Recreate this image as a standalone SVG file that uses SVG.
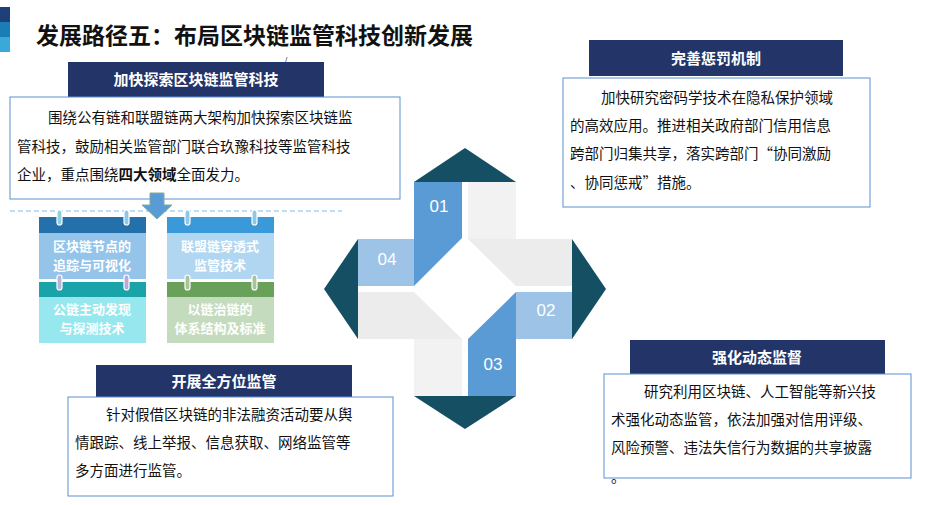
<svg xmlns="http://www.w3.org/2000/svg" width="932" height="505" viewBox="0 0 932 505">
<style>
text{font-family:"Noto Sans CJK SC","Liberation Sans",sans-serif}
.hd{fill:#233568}
.ht{fill:#fff;font-size:15px;font-weight:bold;text-anchor:middle}
.bx{fill:#fff;stroke:#5b8fd0;stroke-width:1}
.bt{fill:#111;font-size:14.5px}
.tt{fill:#fff;font-size:13px;font-weight:bold;text-anchor:middle}
.num{fill:#fff;font-size:17px;font-family:"Liberation Sans",sans-serif;text-anchor:middle}
.dk{fill:#154f63}
</style>
<rect x="0" y="7" width="10" height="15" fill="#1f3f7a"/>
<rect x="0" y="22" width="10" height="15" fill="#1a7db5"/>
<rect x="0" y="37" width="10" height="15" fill="#3aa8d8"/>
<text x="36" y="44" font-size="23" font-weight="bold" fill="#111">发展路径五：布局区块链监管科技创新发展</text>
<text x="284" y="64" font-size="9" fill="#333">/</text>

<g id="n1">
<rect class="hd" x="68" y="62" width="256" height="35"/>
<text class="ht" x="196" y="85">加快探索区块链监管科技</text>
<rect class="bx" x="10" y="97" width="390" height="102"/>
<text class="bt" x="48" y="123">围绕公有链和联盟链两大架构加快探索区块链监</text>
<text class="bt" x="17" y="152">管科技，鼓励相关监管部门联合玖豫科技等监管科技</text>
<text class="bt" x="17" y="180">企业，重点围绕<tspan font-weight="bold">四大领域</tspan>全面发力。</text>
</g>
<line x1="10" y1="211" x2="342" y2="211" stroke="#a9d1ee" stroke-width="1.5" stroke-dasharray="5,3"/>
<g id="arrow"><polygon points="150,193 164,193 164,205 172,205 157,219 142,205 150,205" fill="#5b9bd5" stroke="#7fae9a" stroke-width="1"/></g>

<g id="tiles">
<rect x="39" y="217" width="107" height="16" fill="#2370ab"/><rect x="39" y="233" width="107" height="46" fill="#94c4ea"/>
<text class="tt" x="92" y="251">区块链节点的</text><text class="tt" x="92" y="270">追踪与可视化</text>
<rect x="167" y="217" width="107" height="16" fill="#3a9ad9"/><rect x="167" y="233" width="107" height="46" fill="#b0d6f1"/>
<text class="tt" x="220" y="251">联盟链穿透式</text><text class="tt" x="220" y="270">监管技术</text>
<rect x="39" y="282" width="107" height="15" fill="#1aa3a8"/><rect x="39" y="297" width="107" height="46" fill="#96e8ee"/>
<text class="tt" x="92" y="314">公链主动发现</text><text class="tt" x="92" y="333">与探测技术</text>
<rect x="167" y="282" width="107" height="15" fill="#6aa15a"/><rect x="167" y="297" width="107" height="46" fill="#c5dbbd"/>
<text class="tt" x="220" y="314">以链治链的</text><text class="tt" x="220" y="333">体系结构及标准</text>
<g stroke="#fff" stroke-width="1.2">
<rect x="57" y="210" width="5" height="15" rx="2.5" fill="#8fd0e0"/><rect x="124" y="210" width="5" height="15" rx="2.5" fill="#8fc8e6"/>
<rect x="185" y="210" width="5" height="15" rx="2.5" fill="#8fc8e6"/><rect x="252" y="210" width="5" height="15" rx="2.5" fill="#8fc8e6"/>
<rect x="57" y="275" width="5" height="15" rx="2.5" fill="#b9b4d8"/><rect x="124" y="275" width="5" height="15" rx="2.5" fill="#b9a8d8"/>
<rect x="185" y="275" width="5" height="15" rx="2.5" fill="#a9c49a"/><rect x="252" y="275" width="5" height="15" rx="2.5" fill="#a9c49a"/>
</g>
</g>

<g id="center">
<polygon class="dk" points="465,148 516,182 414,182"/>
<polygon class="dk" points="606,289 572,339 572,239"/>
<polygon class="dk" points="465,429 414,396 516,396"/>
<polygon class="dk" points="324,289 358,239 358,339"/>
<polygon points="468,182 516,182 516,239 468,239" fill="#f2f2f2"/>
<polygon points="468,239 572,239 572,286 516,286" fill="#ececec"/>
<polygon points="414,339 462,339 462,396 414,396" fill="#f2f2f2"/>
<polygon points="358,292 414,292 462,339 358,339" fill="#ececec"/>
<polygon points="414,182 462,182 462,238 414,286" fill="#5b9bd5"/>
<polygon points="516,292 516,396 468,396 468,339" fill="#5b9bd5"/>
<rect x="358" y="239" width="56" height="47" fill="#9dc3e6"/>
<rect x="516" y="292" width="56" height="47" fill="#9dc3e6"/>
<text class="num" x="439" y="212">01</text>
<text class="num" x="546" y="316">02</text>
<text class="num" x="493" y="370">03</text>
<text class="num" x="387" y="265">04</text>
</g>

<g id="n2">
<rect class="hd" x="589" y="40" width="254" height="36"/>
<text class="ht" x="716" y="64">完善惩罚机制</text>
<rect class="bx" x="563" y="78" width="307" height="129"/>
<text class="bt" x="601" y="103">加快研究密码学技术在隐私保护领域</text>
<text class="bt" x="570" y="131">的高效应用。推进相关政府部门信用信息</text>
<text class="bt" x="570" y="159">跨部门归集共享，落实跨部门“协同激励</text>
<text class="bt" x="570" y="188">、协同惩戒”措施。</text>
</g>

<g id="n3">
<rect class="hd" x="630" y="340" width="255" height="34"/>
<text class="ht" x="757" y="363">强化动态监督</text>
<rect class="bx" x="604" y="374" width="307" height="104"/>
<text class="bt" x="644" y="397">研究利用区块链、人工智能等新兴技</text>
<text class="bt" x="611" y="425">术强化动态监管，依法加强对信用评级、</text>
<text class="bt" x="611" y="453">风险预警、违法失信行为数据的共享披露</text>
<text class="bt" x="611" y="482">。</text>
</g>

<g id="n4">
<rect class="hd" x="96" y="365" width="256" height="33"/>
<text class="ht" x="224" y="387">开展全方位监管</text>
<rect class="bx" x="68" y="397" width="325" height="99"/>
<text class="bt" x="106" y="420">针对假借区块链的非法融资活动要从舆</text>
<text class="bt" x="75" y="448">情跟踪、线上举报、信息获取、网络监管等</text>
<text class="bt" x="75" y="476">多方面进行监管。</text>
</g>
</svg>
